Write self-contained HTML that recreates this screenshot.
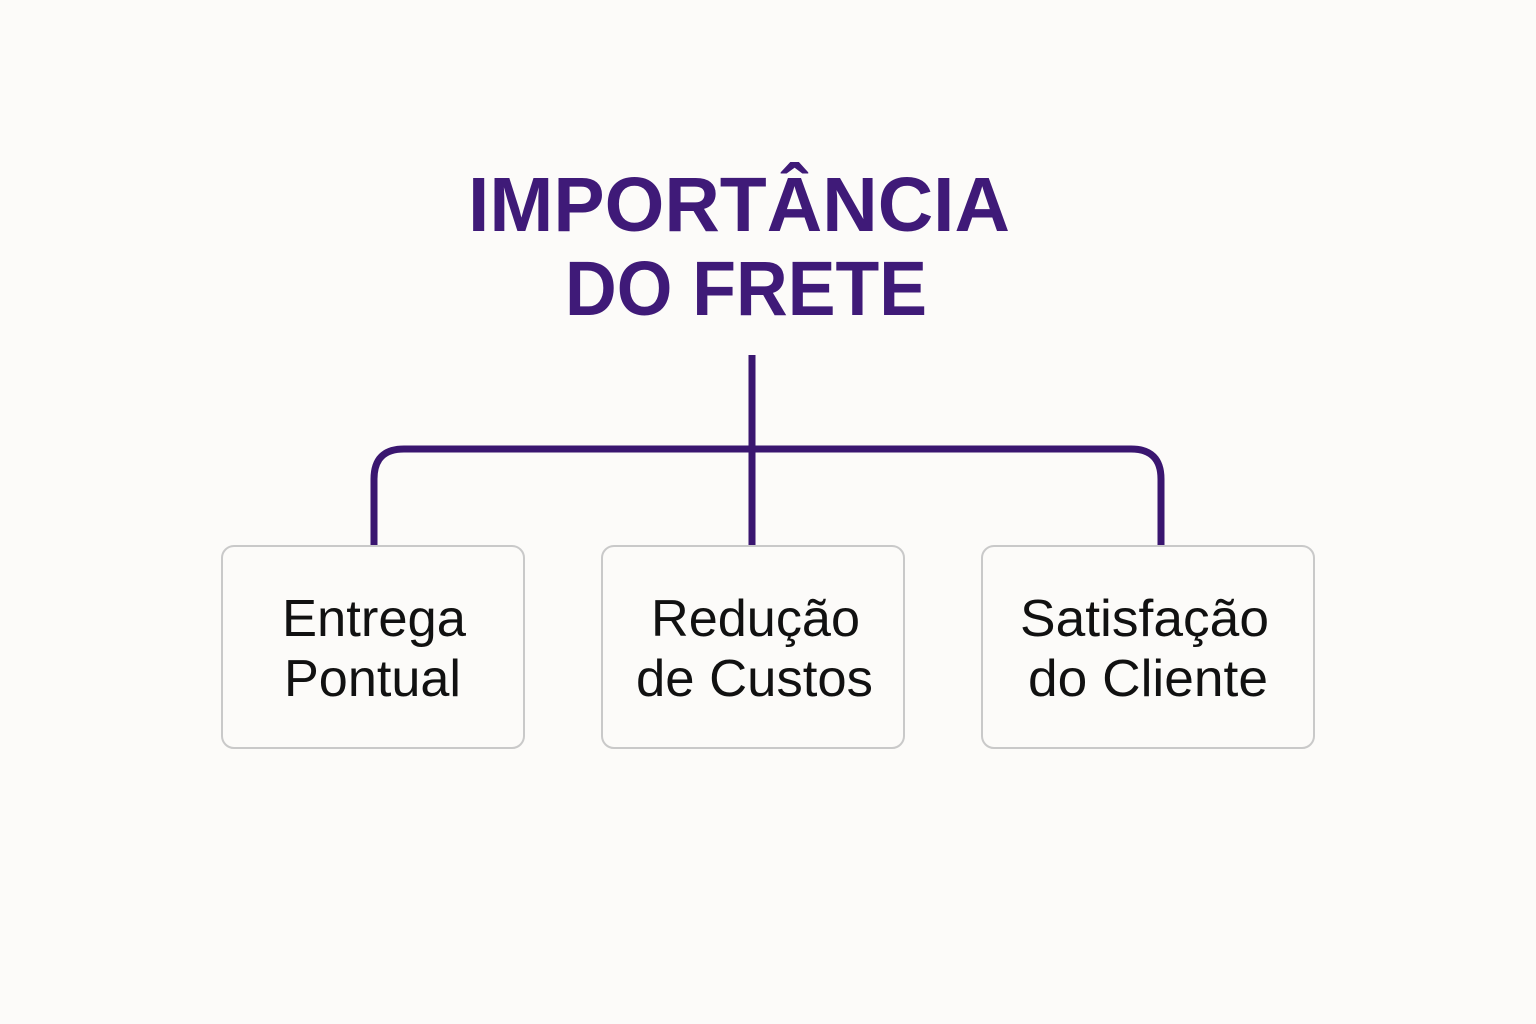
<!DOCTYPE html>
<html><head><meta charset="utf-8"><style>
html,body{margin:0;padding:0;background:#fcfbf9;}
svg{display:block}
</style></head><body>
<svg width="1536" height="1024" viewBox="0 0 1536 1024" xmlns="http://www.w3.org/2000/svg">
<rect width="1536" height="1024" fill="#fcfbf9"/>
<g font-family="Liberation Sans, sans-serif" font-weight="bold" fill="#3f1a78" font-size="77">
<text x="468" y="231" textLength="542" lengthAdjust="spacingAndGlyphs">IMPORTÂNCIA</text>
<text x="565" y="315" textLength="362" lengthAdjust="spacingAndGlyphs">DO FRETE</text>
</g>
<g fill="none" stroke="#3a1670" stroke-width="7">
<path d="M752 355 V546"/>
<path d="M374 546 V479 Q374 449 404 449 H1131 Q1161 449 1161 479 V546"/>
</g>
<g fill="#fcfbf9" stroke="#c9c9c9" stroke-width="2">
<rect x="222" y="546" width="302" height="202" rx="12"/>
<rect x="602" y="546" width="302" height="202" rx="12"/>
<rect x="982" y="546" width="332" height="202" rx="12"/>
</g>
<g font-family="Liberation Sans, sans-serif" fill="#111" font-size="52">
<text x="282" y="636" textLength="184" lengthAdjust="spacingAndGlyphs">Entrega</text>
<text x="284" y="696" textLength="177" lengthAdjust="spacingAndGlyphs">Pontual</text>
<text x="651" y="636" textLength="209" lengthAdjust="spacingAndGlyphs">Redução</text>
<text x="636" y="696" textLength="237" lengthAdjust="spacingAndGlyphs">de Custos</text>
<text x="1020" y="636" textLength="249" lengthAdjust="spacingAndGlyphs">Satisfação</text>
<text x="1028" y="696" textLength="240" lengthAdjust="spacingAndGlyphs">do Cliente</text>
</g>
</svg>
</body></html>
